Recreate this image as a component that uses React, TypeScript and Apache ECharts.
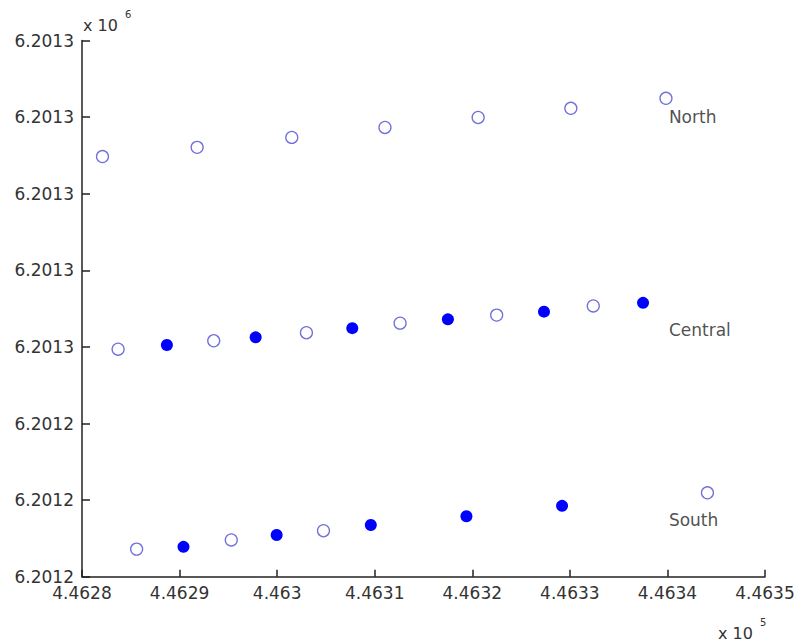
import React, { useEffect, useRef } from "react";
import * as echarts from "echarts";

// Data (x in metres easting, y in metres northing)
const northOpenX = [446282.1, 446291.8, 446301.5, 446311.05, 446320.6, 446330.1, 446339.85];
const northOpenY = [6201309.7, 6201312.1, 6201314.7, 6201317.3, 6201319.9, 6201322.3, 6201324.9];

const centralOpenX = [446283.7, 446293.5, 446303.0, 446312.6, 446322.5, 446332.4];
const centralOpenY = [6201259.4, 6201261.6, 6201263.7, 6201266.2, 6201268.3, 6201270.7];
const centralFilledX = [446288.7, 446297.8, 446307.7, 446317.5, 446327.35, 446337.5];
const centralFilledY = [6201260.5, 6201262.5, 6201264.9, 6201267.2, 6201269.2, 6201271.5];

const southOpenX = [446285.6, 446295.3, 446304.75, 446344.1];
const southOpenY = [6201207.2, 6201209.6, 6201212.0, 6201221.9];
const southFilledX = [446290.4, 446299.95, 446309.6, 446319.4, 446329.2];
const southFilledY = [6201207.8, 6201210.9, 6201213.5, 6201215.8, 6201218.5];

const labelNames = ["North", "Central", "South"];
const labelX = [446340.1, 446340.1, 446340.1];
const labelY = [6201320.0, 6201264.4, 6201214.8];

const xMin = 446280;
const xMax = 446350;
const xStep = 10;
const yMin = 6201200;
const yMax = 6201340;
const yStep = 20;

const zip = (xs: number[], ys: number[]) => xs.map((x, i) => [x, ys[i]]);

export default function App() {
  const ref = useRef<HTMLDivElement>(null);
  useEffect(() => {
    document.body.style.margin = "0";
    if (!ref.current) return;
    const chart = echarts.init(ref.current, undefined, { renderer: "svg" });
    const font = "DejaVu Sans";
    const openStyle = { color: "#ffffff", borderColor: "#7070dc", borderWidth: 1.3, opacity: 1 };
    const filledStyle = { color: "#0000ff", borderColor: "#0000ff", borderWidth: 0, opacity: 1 };
    chart.setOption({
      animation: false,
      backgroundColor: "#ffffff",
      grid: { left: 82, right: 33, top: 40.5, bottom: 64.3, containLabel: false },
      xAxis: {
        type: "value",
        min: xMin,
        max: xMax,
        interval: xStep,
        axisLine: { show: true, lineStyle: { color: "#222", width: 1.5 } },
        axisTick: { show: true, inside: true, length: 7, lineStyle: { color: "#222", width: 1.5 } },
        splitLine: { show: false },
        axisLabel: {
          color: "#333",
          fontFamily: font,
          fontSize: 17,
          margin: 8,
          formatter: (v: number) => parseFloat((v / 1e5).toFixed(4)).toString(),
        },
      },
      yAxis: {
        type: "value",
        min: yMin,
        max: yMax,
        interval: yStep,
        axisLine: { show: true, lineStyle: { color: "#222", width: 1.5 } },
        axisTick: { show: true, inside: true, length: 8, lineStyle: { color: "#222", width: 1.5 } },
        splitLine: { show: false },
        axisLabel: {
          color: "#333",
          fontFamily: font,
          fontSize: 17,
          margin: 8,
          formatter: (v: number) => (v / 1e6).toFixed(4),
        },
      },
      graphic: [
        { type: "text", left: 83, top: 17, style: { text: "x 10", font: `16px "${font}"`, fill: "#333" } },
        { type: "text", left: 125, top: 9, style: { text: "6", font: `10px "${font}"`, fill: "#333" } },
        { type: "text", left: 718, top: 625, style: { text: "x 10", font: `16px "${font}"`, fill: "#333" } },
        { type: "text", left: 760, top: 617, style: { text: "5", font: `10px "${font}"`, fill: "#333" } },
      ],
      series: [
        { name: "North", type: "scatter", symbol: "circle", symbolSize: 12, itemStyle: openStyle, data: zip(northOpenX, northOpenY) },
        { name: "Central open", type: "scatter", symbol: "circle", symbolSize: 12, itemStyle: openStyle, data: zip(centralOpenX, centralOpenY) },
        { name: "Central filled", type: "scatter", symbol: "circle", symbolSize: 12, itemStyle: filledStyle, data: zip(centralFilledX, centralFilledY) },
        { name: "South open", type: "scatter", symbol: "circle", symbolSize: 12, itemStyle: openStyle, data: zip(southOpenX, southOpenY) },
        { name: "South filled", type: "scatter", symbol: "circle", symbolSize: 12, itemStyle: filledStyle, data: zip(southFilledX, southFilledY) },
        {
          name: "labels",
          type: "scatter",
          symbol: "circle",
          symbolSize: 1,
          silent: true,
          itemStyle: { color: "rgba(0,0,0,0)", borderWidth: 0 },
          label: {
            show: true,
            position: "right",
            distance: 0,
            color: "#222",
            fontFamily: font,
            fontSize: 17,
            formatter: (p: any) => p.value[2],
          },
          data: labelNames.map((n, i) => [labelX[i], labelY[i], n]),
        },
      ],
    });
    return () => chart.dispose();
  }, []);
  return <div ref={ref} style={{ position: "fixed", left: 0, top: 0, width: 798, height: 641 }} />;
}
